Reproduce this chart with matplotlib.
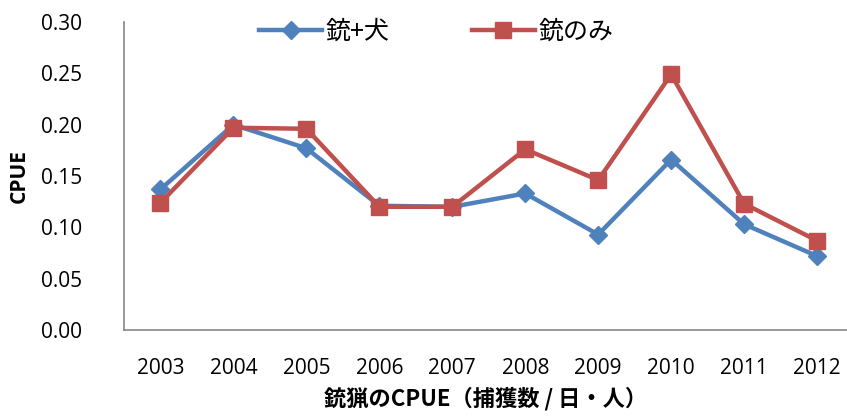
import matplotlib
matplotlib.use("Agg")
import matplotlib.pyplot as plt

years = ["2003", "2004", "2005", "2006", "2007", "2008", "2009", "2010", "2011", "2012"]
gun_dog = [0.137, 0.200, 0.177, 0.121, 0.120, 0.133, 0.093, 0.166, 0.103, 0.072]
gun_only = [0.124, 0.197, 0.196, 0.120, 0.120, 0.176, 0.146, 0.249, 0.123, 0.087]

plt.rcParams['font.family'] = ['Open Sans', 'Noto Sans CJK JP', 'DejaVu Sans']

fig = plt.figure(figsize=(8.47, 4.17), dpi=100)
ax = fig.add_axes([124 / 847, (417 - 330) / 417, (847 - 124) / 847, (330 - 22) / 417])

x = list(range(len(years)))
ax.plot(x, gun_dog, color="#4F81BD", lw=3.2, marker="D", ms=9, label="銃+犬")
ax.plot(x, gun_only, color="#C0504D", lw=3.2, marker="s", ms=12, label="銃のみ")

ax.set_xlim(-0.5, 9.41)
ax.set_ylim(0, 0.30)
ax.set_yticks([0, 0.05, 0.10, 0.15, 0.20, 0.25, 0.30])
ax.set_yticklabels(["%.2f" % v for v in ax.get_yticks()])
ax.set_xticks(x)
ax.set_xticklabels(years)
ax.tick_params(length=0, labelsize=15, pad=20)
ax.tick_params(axis="y", pad=30)

for s in ["top", "right"]:
    ax.spines[s].set_visible(False)
for s in ["left", "bottom"]:
    ax.spines[s].set_color("#868686")
    ax.spines[s].set_linewidth(1.2)

ax.set_ylabel("CPUE", fontsize=15, fontweight="bold", labelpad=8,
              family=['Open Sans', 'DejaVu Sans'])
ax.set_xlabel("銃猟のCPUE（捕獲数 / 日・人）", fontsize=16, fontweight="bold",
              labelpad=6, family=['Noto Sans CJK JP', 'DejaVu Sans'])

leg = ax.legend(loc="upper center", bbox_to_anchor=(0.432, 1.085), ncol=2,
                frameon=False, handlelength=2.5, handletextpad=0.15, columnspacing=3.3,
                prop={'family': ['Noto Sans CJK JP'], 'size': 18})

fig.savefig("out.png", dpi=100)
